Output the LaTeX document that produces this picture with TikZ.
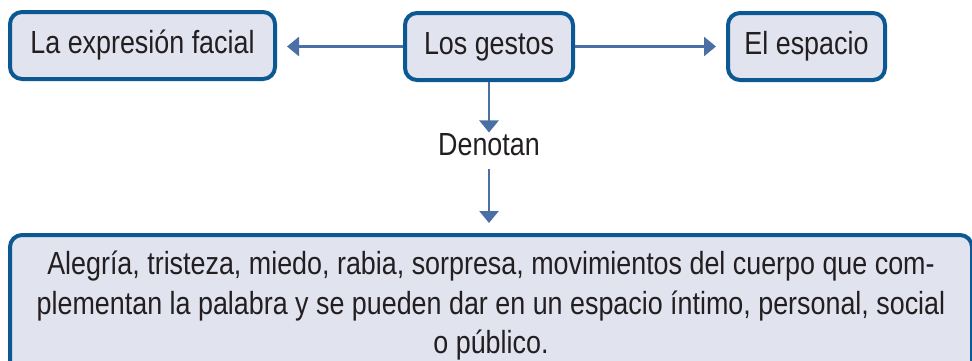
\documentclass[tikz,border=0pt]{standalone}
\usepackage{fontspec}
\setmainfont{Liberation Sans}[FakeStretch=0.84]
\usetikzlibrary{arrows.meta,positioning}
\definecolor{gBorder}{HTML}{0B5893}
\definecolor{gFill}{HTML}{E1E3EF}
\definecolor{gArrow}{HTML}{4A6FA5}
\definecolor{gText}{HTML}{231F20}
\tikzset{
  every picture/.style={line width=0.7pt},
  gbox/.style={draw=gBorder, fill=gFill, line width=4pt, rounded corners=12pt,
               minimum height=67pt, inner xsep=8pt, text=gText,
               font=\fontsize{32}{39.5}\selectfont},
  glabel/.style={inner sep=0pt, text=gText, font=\fontsize{32}{39.5}\selectfont},
  garrow/.style={draw=gArrow, line width=2.5pt, -{Triangle[length=12pt,width=19pt]}},
}

\begin{document}
\begin{tikzpicture}[x=1pt,y=1pt]
  \useasboundingbox (0,0) rectangle (972,360);
  \clip (0,0) rectangle (972,360);
  \node[gbox, minimum width=265pt] (expr) at (142.5,314.5) {La expresión facial};
  \node[gbox, minimum width=168pt] (gestos) at (489,313.5) {Los gestos};
  \node[gbox, minimum width=157pt] (espacio) at (806.5,313.5) {El espacio};
  \node[glabel] (den) at (489,215) {Denotan};
  \node[gbox, minimum width=962pt, minimum height=142pt, align=center]
        (emoc) at (491,54)
        {Alegría, tristeza, miedo, rabia, sorpresa, movimientos del cuerpo que com-\\
         plementan la palabra y se pueden dar en un espacio íntimo, personal, social\\
         o público.};
  \draw[garrow, shorten >=10pt] (gestos.west) -- (gestos.west -| expr.east);
  \draw[garrow, shorten >=10pt] (gestos) -- (espacio);
  \draw[garrow, shorten >=1pt] (gestos) -- (den);
  \draw[garrow, shorten <=12pt, shorten >=10pt] (den) -- (den |- emoc.north);
\end{tikzpicture}
\end{document}
